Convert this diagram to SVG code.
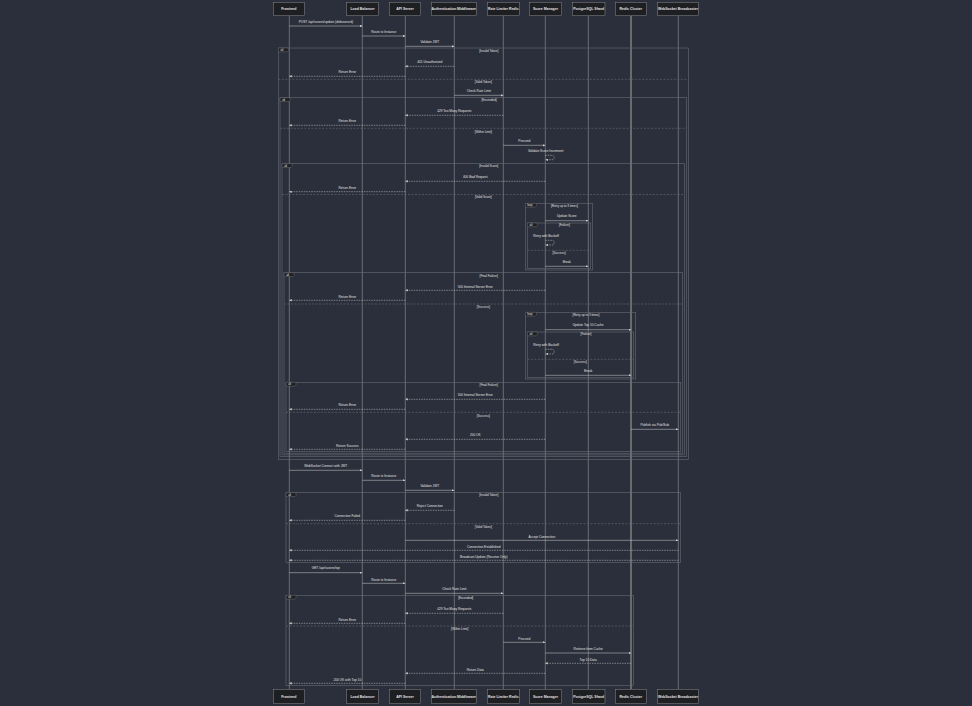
<svg xmlns="http://www.w3.org/2000/svg" width="972" height="706" viewBox="0 0 972 706">
<defs>
<style>
text{font-family:"Liberation Sans",Arial,sans-serif;fill:#e2e2e2;text-anchor:middle}
.actor rect{fill:#1e1f22;stroke:#8c8c8c;stroke-width:0.5}
.actor text{font-size:3.5px;font-weight:bold}
.life{stroke:#a8a8a8;stroke-width:0.5}
.msg line,.msg path{stroke:#d0d0d0;stroke-width:0.5;fill:none}
.msg .d{stroke-dasharray:1.5 1}
.msg text{font-size:3.2px}
.fr rect{fill:none;stroke:#686c76;stroke-width:0.6}
.fr .sep{stroke:#686c76;stroke-width:0.6;stroke-dasharray:2 1.5}
.fr .lb{fill:#1e1f22;stroke:#686c76;stroke-width:0.5}
.fr text{font-size:3px}
.fr .lt{font-size:2.8px;text-anchor:start}
</style>
<marker id="ah" viewBox="0 0 10 10" refX="10" refY="5" markerWidth="2.4" markerHeight="2.4" markerUnits="userSpaceOnUse" orient="auto">
<path d="M0 0 L10 5 L0 10 z" fill="#d0d0d0"/>
</marker>
</defs>
<rect width="972" height="706" fill="#2b2f3b"/>

<g id="lifelines">
<line class="life" x1="289.3" y1="16" x2="289.3" y2="689"/>
<line class="life" x1="362.3" y1="16" x2="362.3" y2="689"/>
<line class="life" x1="405.3" y1="16" x2="405.3" y2="689"/>
<line class="life" x1="454.3" y1="16" x2="454.3" y2="689"/>
<line class="life" x1="503.3" y1="16" x2="503.3" y2="689"/>
<line class="life" x1="545.3" y1="16" x2="545.3" y2="689"/>
<line class="life" x1="588.3" y1="16" x2="588.3" y2="689"/>
<line class="life" x1="631" y1="16" x2="631" y2="689" style="stroke-width:1"/>
<line class="life" x1="678.3" y1="16" x2="678.3" y2="689"/>
</g>

<g id="frames" class="fr">
<!-- F1 -->
<rect x="278.3" y="48" width="410" height="411.5"/>
<path class="lb" d="M278.3 48h10v2.8l-1 1h-9z"/><text class="lt" x="280.5" y="50.9">alt</text>
<text x="488.7" y="51.8">[Invalid Token]</text>
<line class="sep" x1="278.3" y1="79.3" x2="688.3" y2="79.3"/><text x="483.3" y="83.1">[Valid Token]</text>
<!-- F2 -->
<rect x="280" y="97.7" width="406.7" height="358.9"/>
<path class="lb" d="M280 97.7h10v2.8l-1 1h-9z"/><text class="lt" x="282.2" y="100.6">alt</text>
<text x="489" y="101.4">[Exceeded]</text>
<line class="sep" x1="280" y1="128.3" x2="686.7" y2="128.3"/><text x="483.3" y="132.8">[Within Limit]</text>
<!-- F3 -->
<rect x="282" y="163.7" width="402.3" height="291.2"/>
<path class="lb" d="M282 163.7h10v2.8l-1 1h-9z"/><text class="lt" x="284.2" y="166.6">alt</text>
<text x="488.7" y="167.4">[Invalid Score]</text>
<line class="sep" x1="282" y1="194.5" x2="684.3" y2="194.5"/><text x="483.3" y="198.4">[Valid Score]</text>
<!-- Loop1 -->
<rect x="525.3" y="203.3" width="67" height="66.7"/>
<path class="lb" d="M525.3 203.3h11v2.8l-1 1h-10z"/><text class="lt" x="527.2" y="206.2">loop</text>
<text x="564.3" y="206.8">[Retry up to 3 times]</text>
<!-- Alt1a -->
<rect x="527.3" y="223" width="63.4" height="45.3"/>
<path class="lb" d="M527.3 223h10v2.8l-1 1h-9z"/><text class="lt" x="529.5" y="225.9">alt</text>
<text x="564.3" y="226.4">[Failure]</text>
<line class="sep" x1="527.3" y1="250.3" x2="590.7" y2="250.3"/><text x="559" y="253.8">[Success]</text>
<!-- F4 -->
<rect x="284" y="272.7" width="398.7" height="180.5"/>
<path class="lb" d="M284 272.7h10v2.8l-1 1h-9z"/><text class="lt" x="286.2" y="275.6">alt</text>
<text x="488.7" y="276.8">[Final Failure]</text>
<line class="sep" x1="284" y1="304" x2="682.7" y2="304"/><text x="483.3" y="307.8">[Success]</text>
<!-- Loop2 -->
<rect x="525.3" y="312.3" width="110.4" height="66.7"/>
<path class="lb" d="M525.3 312.3h11v2.8l-1 1h-10z"/><text class="lt" x="527.2" y="315.2">loop</text>
<text x="586" y="315.8">[Retry up to 3 times]</text>
<!-- Alt2a -->
<rect x="527.3" y="332" width="106" height="45.3"/>
<path class="lb" d="M527.3 332h10v2.8l-1 1h-9z"/><text class="lt" x="529.5" y="334.9">alt</text>
<text x="586" y="335.4">[Failure]</text>
<line class="sep" x1="527.3" y1="359.3" x2="633.3" y2="359.3"/><text x="580.3" y="362.8">[Success]</text>
<!-- F5 -->
<rect x="286" y="382.3" width="394.7" height="69.2"/>
<path class="lb" d="M286 382.3h10v2.8l-1 1h-9z"/><text class="lt" x="288.2" y="385.2">alt</text>
<text x="488.7" y="385.8">[Final Failure]</text>
<line class="sep" x1="286" y1="412.3" x2="680.7" y2="412.3"/><text x="483.3" y="416.8">[Success]</text>
<!-- F6 -->
<rect x="286" y="492.7" width="394.7" height="69.6"/>
<path class="lb" d="M286 492.7h10v2.8l-1 1h-9z"/><text class="lt" x="288.2" y="495.6">alt</text>
<text x="488.7" y="496.4">[Invalid Token]</text>
<line class="sep" x1="286" y1="523.7" x2="680.7" y2="523.7"/><text x="483.3" y="527.8">[Valid Token]</text>
<!-- F7 -->
<rect x="286" y="595.3" width="347.3" height="90"/>
<path class="lb" d="M286 595.3h10v2.8l-1 1h-9z"/><text class="lt" x="288.2" y="598.2">alt</text>
<text x="465.7" y="598.8">[Exceeded]</text>
<line class="sep" x1="286" y1="626" x2="633.3" y2="626"/><text x="459.7" y="629.8">[Within Limit]</text>
</g>

<g id="connectors" class="msg">
<line x1="289.3" y1="26" x2="362.3" y2="26" marker-end="url(#ah)"/><text x="325.8" y="23">POST /api/scores/update (debounced)</text>
<line x1="362.3" y1="36" x2="405.3" y2="36" marker-end="url(#ah)"/><text x="383.8" y="33">Route to Instance</text>
<line x1="405.3" y1="46.3" x2="454.3" y2="46.3" marker-end="url(#ah)"/><text x="429.8" y="43.3">Validate JWT</text>
<line class="d" x1="454.3" y1="66.3" x2="405.3" y2="66.3" marker-end="url(#ah)"/><text x="429.8" y="63.3">401 Unauthorized</text>
<line class="d" x1="405.3" y1="76.3" x2="289.3" y2="76.3" marker-end="url(#ah)"/><text x="347.3" y="73.3">Return Error</text>
<line x1="454.3" y1="95.3" x2="503.3" y2="95.3" marker-end="url(#ah)"/><text x="478.8" y="92.3">Check Rate Limit</text>
<line class="d" x1="503.3" y1="115.3" x2="405.3" y2="115.3" marker-end="url(#ah)"/><text x="454.3" y="112.3">429 Too Many Requests</text>
<line class="d" x1="405.3" y1="125.3" x2="289.3" y2="125.3" marker-end="url(#ah)"/><text x="347.3" y="122.3">Return Error</text>
<line x1="503.3" y1="145.3" x2="545.3" y2="145.3" marker-end="url(#ah)"/><text x="524.3" y="142.3">Proceed</text>
<path class="d" d="M545.3 155.3H553Q555.5 157.5 553 159.7H545.5" marker-end="url(#ah)"/><text x="545.7" y="152.4">Validate Score Increment</text>
<line class="d" x1="545.3" y1="181.3" x2="405.3" y2="181.3" marker-end="url(#ah)"/><text x="475.3" y="178.3">400 Bad Request</text>
<line class="d" x1="405.3" y1="191.7" x2="289.3" y2="191.7" marker-end="url(#ah)"/><text x="347.3" y="188.7">Return Error</text>
<line x1="545.3" y1="220.7" x2="588.3" y2="220.7" marker-end="url(#ah)"/><text x="566.8" y="217.4">Update Score</text>
<path class="d" d="M545.3 240.3H553Q555.5 242.6 553 245H545.5" marker-end="url(#ah)"/><text x="546" y="237.4">Retry with Backoff</text>
<line x1="545.3" y1="266.3" x2="588.3" y2="266.3" marker-end="url(#ah)"/><text x="566.8" y="263.3">Break</text>
<line class="d" x1="545.3" y1="290.3" x2="405.3" y2="290.3" marker-end="url(#ah)"/><text x="475.3" y="287.7">500 Internal Server Error</text>
<line class="d" x1="405.3" y1="300.3" x2="289.3" y2="300.3" marker-end="url(#ah)"/><text x="347.3" y="297.7">Return Error</text>
<line x1="545.3" y1="329.7" x2="631" y2="329.7" marker-end="url(#ah)"/><text x="588.2" y="326.4">Update Top 10 Cache</text>
<path class="d" d="M545.3 349.3H553Q555.5 351.6 553 354H545.5" marker-end="url(#ah)"/><text x="546" y="346.4">Retry with Backoff</text>
<line x1="545.3" y1="375.3" x2="631" y2="375.3" marker-end="url(#ah)"/><text x="588.2" y="372.4">Break</text>
<line class="d" x1="545.3" y1="399.3" x2="405.3" y2="399.3" marker-end="url(#ah)"/><text x="475.3" y="396.4">500 Internal Server Error</text>
<line class="d" x1="405.3" y1="409.3" x2="289.3" y2="409.3" marker-end="url(#ah)"/><text x="347.3" y="406.4">Return Error</text>
<line x1="631" y1="429.3" x2="678.3" y2="429.3" marker-end="url(#ah)"/><text x="654.7" y="426.4">Publish via Pub/Sub</text>
<line class="d" x1="545.3" y1="439.3" x2="405.3" y2="439.3" marker-end="url(#ah)"/><text x="475.3" y="436.4">200 OK</text>
<line class="d" x1="405.3" y1="449.3" x2="289.3" y2="449.3" marker-end="url(#ah)"/><text x="347.3" y="446.7">Return Success</text>
<line x1="289.3" y1="470.3" x2="362.3" y2="470.3" marker-end="url(#ah)"/><text x="325.8" y="467.4">WebSocket Connect with JWT</text>
<line x1="362.3" y1="480.3" x2="405.3" y2="480.3" marker-end="url(#ah)"/><text x="383.8" y="477.4">Route to Instance</text>
<line x1="405.3" y1="490.3" x2="454.3" y2="490.3" marker-end="url(#ah)"/><text x="429.8" y="487.4">Validate JWT</text>
<line class="d" x1="454.3" y1="510.3" x2="405.3" y2="510.3" marker-end="url(#ah)"/><text x="429.8" y="507.4">Reject Connection</text>
<line class="d" x1="405.3" y1="520.3" x2="289.3" y2="520.3" marker-end="url(#ah)"/><text x="347.3" y="517.4">Connection Failed</text>
<line x1="405.3" y1="540.3" x2="678.3" y2="540.3" marker-end="url(#ah)"/><text x="541.8" y="537.7">Accept Connection</text>
<line class="d" x1="678.3" y1="550.3" x2="289.3" y2="550.3" marker-end="url(#ah)"/><text x="483.8" y="547.7">Connection Established</text>
<line class="d" x1="678.3" y1="560.3" x2="289.3" y2="560.3" marker-end="url(#ah)"/><text x="483.8" y="557.7">Broadcast Update (Receive Only)</text>
<line x1="289.3" y1="572.7" x2="362.3" y2="572.7" marker-end="url(#ah)"/><text x="325.8" y="569.4">GET /api/scores/top</text>
<line x1="362.3" y1="583.3" x2="405.3" y2="583.3" marker-end="url(#ah)"/><text x="383.8" y="580.7">Route to Instance</text>
<line x1="405.3" y1="593.3" x2="503.3" y2="593.3" marker-end="url(#ah)"/><text x="454.3" y="590.4">Check Rate Limit</text>
<line class="d" x1="503.3" y1="613.3" x2="405.3" y2="613.3" marker-end="url(#ah)"/><text x="454.3" y="609.8">429 Too Many Requests</text>
<line class="d" x1="405.3" y1="623.3" x2="289.3" y2="623.3" marker-end="url(#ah)"/><text x="347.3" y="620.7">Return Error</text>
<line x1="503.3" y1="642.3" x2="545.3" y2="642.3" marker-end="url(#ah)"/><text x="524.3" y="639.7">Proceed</text>
<line x1="545.3" y1="653" x2="631" y2="653" marker-end="url(#ah)"/><text x="588.2" y="649.7">Retrieve from Cache</text>
<line class="d" x1="631" y1="663.3" x2="545.3" y2="663.3" marker-end="url(#ah)"/><text x="588.2" y="660.7">Top 10 Data</text>
<line class="d" x1="545.3" y1="673.3" x2="405.3" y2="673.3" marker-end="url(#ah)"/><text x="475.3" y="670.7">Return Data</text>
<line class="d" x1="405.3" y1="683.3" x2="289.3" y2="683.3" marker-end="url(#ah)"/><text x="347.3" y="680.7">200 OK with Top 10</text>
</g>

<g id="frontend" class="actor">
<rect x="273.3" y="2.3" width="31" height="13.4"/><text x="288.8" y="10.2">Frontend</text>
<rect x="273.3" y="689.3" width="31" height="14.4"/><text x="288.8" y="697.7">Frontend</text>
</g>
<g id="load-balancer" class="actor">
<rect x="346.7" y="2.3" width="31.6" height="13.4"/><text x="362.5" y="10.2">Load Balancer</text>
<rect x="346.7" y="689.3" width="31.6" height="14.4"/><text x="362.5" y="697.7">Load Balancer</text>
</g>
<g id="api-server" class="actor">
<rect x="389.3" y="2.3" width="31.4" height="13.4"/><text x="405" y="10.2">API Server</text>
<rect x="389.3" y="689.3" width="31.4" height="14.4"/><text x="405" y="697.7">API Server</text>
</g>
<g id="auth-middleware" class="actor">
<rect x="431.3" y="2.3" width="45" height="13.4"/><text x="453.8" y="10.2">Authentication Middleware</text>
<rect x="431.3" y="689.3" width="45" height="14.4"/><text x="453.8" y="697.7">Authentication Middleware</text>
</g>
<g id="rate-limiter" class="actor">
<rect x="487.3" y="2.3" width="32" height="13.4"/><text x="503.3" y="10.2">Rate Limiter Redis</text>
<rect x="487.3" y="689.3" width="32" height="14.4"/><text x="503.3" y="697.7">Rate Limiter Redis</text>
</g>
<g id="score-manager" class="actor">
<rect x="529.3" y="2.3" width="32.4" height="13.4"/><text x="545.5" y="10.2">Score Manager</text>
<rect x="529.3" y="689.3" width="32.4" height="14.4"/><text x="545.5" y="697.7">Score Manager</text>
</g>
<g id="postgres-shard" class="actor">
<rect x="572.3" y="2.3" width="32.7" height="13.4"/><text x="588.7" y="10.2">PostgreSQL Shard</text>
<rect x="572.3" y="689.3" width="32.7" height="14.4"/><text x="588.7" y="697.7">PostgreSQL Shard</text>
</g>
<g id="redis-cluster" class="actor">
<rect x="615.3" y="2.3" width="31" height="13.4"/><text x="630.8" y="10.2">Redis Cluster</text>
<rect x="615.3" y="689.3" width="31" height="14.4"/><text x="630.8" y="697.7">Redis Cluster</text>
</g>
<g id="websocket-broadcaster" class="actor">
<rect x="657.7" y="2.3" width="40.6" height="13.4"/><text x="678" y="10.2">WebSocket Broadcaster</text>
<rect x="657.7" y="689.3" width="40.6" height="14.4"/><text x="678" y="697.7">WebSocket Broadcaster</text>
</g>
</svg>
